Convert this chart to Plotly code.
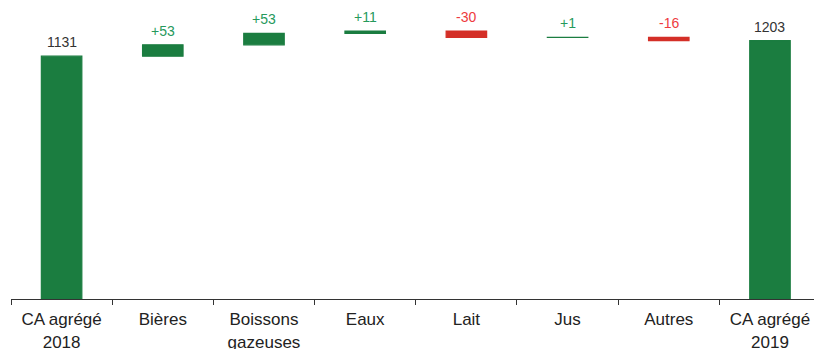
import plotly.graph_objects as go

categories = ["CA agrégé<br>2018", "Bières", "Boissons<br>gazeuses", "Eaux", "Lait", "Jus", "Autres", "CA agrégé<br>2019"]
start_total = 1131
deltas = [53, 53, 11, -30, 1, -16]
end_total = 1203

GREEN = "#1b7d40"
RED = "#d42f27"
GREEN_TXT = "#26995c"
RED_TXT = "#ee3b40"
DARK_TXT = "#333333"

bases, heights, colors, labels, lcolors, tops = [], [], [], [], [], []
bases.append(0); heights.append(start_total); colors.append(GREEN)
labels.append(str(start_total)); lcolors.append(DARK_TXT); tops.append(start_total)
cum = start_total
for d in deltas:
    if d >= 0:
        bases.append(cum); heights.append(d); colors.append(GREEN)
        labels.append(f"+{d}"); lcolors.append(GREEN_TXT); tops.append(cum + d)
    else:
        bases.append(cum + d); heights.append(-d); colors.append(RED)
        labels.append(f"{d}"); lcolors.append(RED_TXT); tops.append(cum)
    cum += d
bases.append(0); heights.append(end_total); colors.append(GREEN)
labels.append(str(end_total)); lcolors.append(DARK_TXT); tops.append(end_total)

fig = go.Figure(go.Bar(
    x=categories, y=heights, base=bases, marker_color=colors,
    marker_line_color=colors, marker_line_width=1.2, width=0.40, hoverinfo="skip",
))

for c, t, lab, col in zip(categories, tops, labels, lcolors):
    fig.add_annotation(x=c, y=t, text=lab, showarrow=False, yanchor="bottom",
                       yshift=4, font=dict(size=14, color=col,
                       family="Liberation Sans, Arial, sans-serif"))

fig.update_layout(
    width=814, height=349,
    margin=dict(l=11, r=0, t=20, b=50),
    plot_bgcolor="white", paper_bgcolor="white",
    showlegend=False,
    font=dict(family="Liberation Sans, Arial, sans-serif", color="#222222"),
    xaxis=dict(
        type="category", range=[-0.5, 7.435], automargin=False,
        showline=True, linecolor="#333333", linewidth=1,
        ticks="outside", tickson="boundaries", ticklen=5, tickcolor="#333333",
        ticklabelstandoff=5,
        tickfont=dict(size=17, color="#222222"),
        showgrid=False, zeroline=False,
    ),
    yaxis=dict(visible=False, range=[0, 1299.5], showgrid=False, zeroline=False,
               automargin=False),
)

fig.write_html("out.html")
